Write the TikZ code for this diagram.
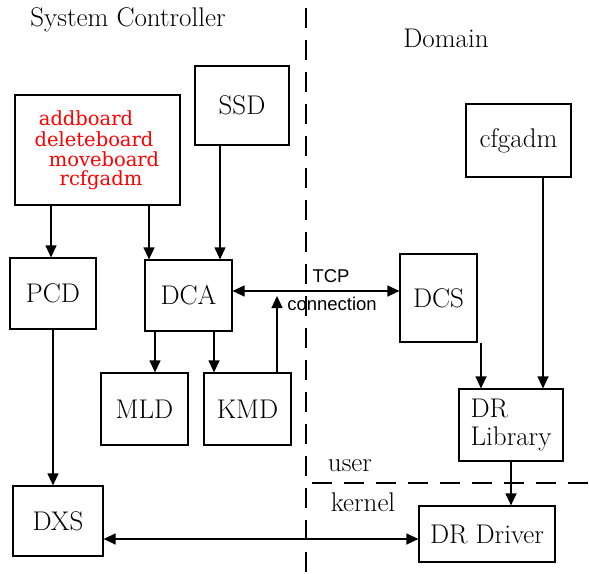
\documentclass[tikz,border=0pt]{standalone}
\usepackage{fontspec}
\newfontfamily\sansf{Liberation Sans}
\newfontfamily\redf{DejaVu Serif}
\usetikzlibrary{arrows.meta}
\begin{document}
\begin{tikzpicture}[x=1pt,y=-1pt,
  box/.style={draw,line width=1.2pt,inner sep=0pt},
  lbl/.style={font=\fontsize{27}{28}\selectfont},
  red/.style={text=red,inner sep=0pt,font=\redf\fontsize{19.5}{21}\selectfont},
  arr/.style={line width=1.2pt,-{Triangle[length=12pt,width=11pt]}},
  darr/.style={line width=1.2pt,{Triangle[length=12pt,width=11pt]}-{Triangle[length=12pt,width=11pt]}},
  dsh/.style={line width=1.1pt,dash pattern=on 20pt off 12pt}]
\useasboundingbox (0,0) rectangle (589,573);
% dividers
\coordinate (vt) at (306,8);
\coordinate (vb) at (306,573);
\coordinate (hl) at (312,483);
\coordinate (hr) at (589,483);
\draw[dsh] (vt) -- (vb);
\draw[dsh] (hl) -- (hr);
% titles
\node[lbl] (sc) at (128,20) {System Controller};
\node[lbl] (dom) at (446,38) {Domain};
\node[lbl] (user) at (350,466) {user};
\node[lbl] (kern) at (363,502) {kernel};
% boxes
\node[box,minimum width=165pt,minimum height=110pt] (cmd) at (97.5,150) {};
\node[red] (c1) at (86,118) {addboard};
\node[red] (c2) at (94,139) {deleteboard};
\node[red] (c3) at (104,159) {moveboard};
\node[red] (c4) at (101,180) {rcfgadm};
\node[box,minimum width=94pt,minimum height=79pt,lbl] (ssd) at (242,105.5) {SSD};
\node[box,minimum width=105pt,minimum height=73pt,lbl] (cfg) at (518.5,140.5) {cfgadm};
\node[box,minimum width=86pt,minimum height=71pt,lbl] (pcd) at (53,293.5) {PCD};
\node[box,minimum width=87pt,minimum height=71pt,lbl] (dca) at (188.5,295.5) {DCA};
\node[box,minimum width=77pt,minimum height=88pt,lbl] (dcs) at (438.5,298) {DCS};
\node[box,minimum width=87pt,minimum height=72pt,lbl] (mld) at (144.5,409) {MLD};
\node[box,minimum width=87pt,minimum height=72pt,lbl] (kmd) at (247.5,409) {KMD};
\node[box,minimum width=104pt,minimum height=72pt,lbl,align=left] (drl) at (511,425) {DR\\Library};
\node[box,minimum width=90pt,minimum height=70pt,lbl] (dxs) at (58,521) {DXS};
\node[box,minimum width=136pt,minimum height=56pt,lbl] (drd) at (487,534) {DR Driver};
% arrows
\draw[arr] (cmd.south -| pcd.north) ++(-2,0) coordinate (a1) -- (a1 |- pcd.north);
\draw[arr] (149,205) coordinate (a2) -- (a2 |- dca.north);
\draw[arr] (ssd.south -| 220,0) coordinate (a3) -- (a3 |- dca.north);
\draw[arr] (dca.south -| 155,0) coordinate (a4) -- (a4 |- mld.north);
\draw[arr] (dca.south -| 214,0) coordinate (a5) -- (a5 |- kmd.north);
\coordinate (tcpend) at (277,296);
\draw[arr] (kmd.north -| tcpend) coordinate (a6) -- (tcpend);
\draw[darr] (dca.east |- 0,291) coordinate (a7) -- (a7 -| dcs.west);
\node[font=\sansf\fontsize{18.5}{21}\selectfont] (tcp) at (331,276) {TCP};
\node[font=\sansf\fontsize{18.5}{21}\selectfont] (conn) at (332,304) {connection};
\draw[arr] (pcd.south) -- (dxs.north -| pcd.south);
\draw[arr] (dcs.south -| 481,0) coordinate (a8) -- (a8 |- drl.north);
\draw[arr] (cfg.south -| 543,0) coordinate (a9) -- (a9 |- drl.north);
\draw[arr] (drl.south) -- (drd.north -| drl.south);
\draw[darr] (dxs.east |- 0,539) coordinate (a10) -- (a10 -| drd.west);
\end{tikzpicture}
\end{document}
